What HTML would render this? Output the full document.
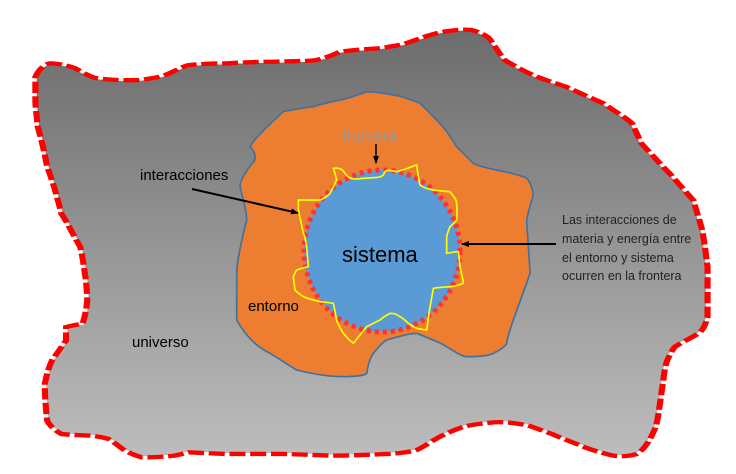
<!DOCTYPE html>
<html><head><meta charset="utf-8"><style>
html,body{margin:0;padding:0;background:#fff;overflow:hidden;}
svg{display:block;}
text{font-family:"Liberation Sans",sans-serif;}
</style></head><body>
<svg width="736" height="474" viewBox="0 0 736 474" xmlns="http://www.w3.org/2000/svg">
<defs>
<linearGradient id="g" x1="0" y1="0" x2="0" y2="1">
<stop offset="0" stop-color="#6c6c6c"/><stop offset="1" stop-color="#bdbdbd"/>
</linearGradient>
<marker id="ah" markerWidth="8" markerHeight="8" refX="7" refY="4" orient="auto" markerUnits="userSpaceOnUse">
<path d="M0,1 L8,4 L0,7 z" fill="#000"/></marker>
<path id="outer" d="M75,230 C85,200 100,188 110,190 C135,192 150,200 160,205 C185,225 200,235 210,235 C250,242 270,240 290,240 C320,236 340,230 350,225 C375,210 390,198 400,195 C440,190 460,190 480,190 C520,186 560,185 580,185 C630,183 655,183 670,180 C700,170 712,160 720,155 C760,148 780,147 800,145 C830,140 850,134 860,130 C900,110 920,100 940,95 C970,88 990,88 1000,90 C1025,100 1035,110 1040,120 C1055,150 1062,168 1070,180 C1100,205 1115,215 1130,225 C1165,245 1185,252 1200,260 C1240,285 1260,298 1280,310 C1310,340 1330,355 1340,370 C1350,400 1355,415 1360,430 C1390,475 1405,500 1420,520 C1445,560 1460,585 1470,600 C1480,650 1488,680 1490,700 C1496,750 1498,780 1500,800 C1500,870 1500,920 1500,950 C1495,975 1490,990 1480,1000 C1455,1020 1440,1030 1430,1040 C1415,1070 1412,1090 1410,1100 C1405,1150 1402,1180 1400,1200 C1396,1240 1394,1260 1390,1280 C1375,1330 1362,1350 1350,1360 C1330,1368 1315,1368 1300,1365 C1270,1355 1255,1348 1240,1340 C1205,1320 1185,1310 1170,1300 C1145,1288 1132,1280 1120,1275 C1085,1265 1065,1264 1050,1265 C1010,1270 995,1274 980,1280 C955,1292 942,1302 930,1310 C905,1330 892,1345 880,1350 C850,1358 835,1359 820,1360 C760,1364 730,1365 700,1365 C650,1362 620,1361 600,1360 C540,1360 500,1360 480,1360 C440,1358 415,1356 400,1355 C385,1360 378,1363 370,1365 C335,1370 315,1370 300,1370 C280,1362 268,1352 260,1345 C245,1330 238,1320 230,1315 C210,1308 200,1306 190,1305 C160,1303 140,1302 130,1300 C112,1285 104,1272 100,1260 C96,1210 95,1175 95,1150 C100,1115 105,1095 110,1080 C125,1050 135,1030 140,1020 C140,1000 140,990 140,980 C155,974 168,972 175,970 C182,940 184,915 185,900 C184,860 182,835 180,820 C176,780 173,755 170,740 C150,690 140,660 130,640 C118,570 108,530 100,500 C92,440 85,405 80,380 C77,340 75,315 75,300 Z"/>
</defs>
<g transform="scale(0.4717,0.3338)">
<use href="#outer" fill="url(#g)" stroke="#fff" stroke-width="6"/>
<use href="#outer" fill="none" stroke="#f00" stroke-width="13" stroke-dasharray="34 10"/>
</g>
<g transform="translate(230,80) scale(0.33333)">
<path d="M160,95 C100,150 70,180 60,200 C80,220 75,235 75,240 C50,270 30,300 30,320 C45,380 50,400 50,420 C30,500 20,550 20,580 C20,650 20,690 20,720 C60,790 100,810 120,820 C170,850 185,862 200,870 C280,890 320,890 350,890 C395,888 405,885 410,880 C415,850 420,835 430,820 C450,795 460,785 470,780 C520,765 545,760 560,760 C610,780 635,790 650,800 C690,825 700,830 710,830 C760,830 780,825 790,820 C820,805 828,795 830,790 C835,760 845,735 850,720 C875,650 890,610 900,580 C895,480 890,440 890,420 C900,370 910,350 910,340 C900,300 890,292 880,290 C830,275 810,272 800,270 C760,262 740,255 730,250 C700,220 690,210 680,200 C650,150 630,130 620,120 C590,90 580,78 570,70 C520,50 505,46 490,45 C440,35 420,35 410,35 C370,50 345,57 330,60 C280,70 265,75 250,80 C190,88 170,92 160,95 Z" fill="#ed7d31" stroke="#41719c" stroke-width="5"/>
<ellipse cx="456" cy="513" rx="234" ry="243" fill="#5b9bd5"/>
<ellipse cx="456" cy="513" rx="234" ry="243" fill="none" stroke="#f33" stroke-width="15" stroke-dasharray="12 12"/>
<path d="M310,265 C330,262 340,270 345,280 C355,295 365,300 400,295 C440,293 455,292 460,285 C465,270 470,268 500,275 C540,265 555,255 560,255 C565,290 568,310 570,315 C590,330 620,332 660,335 C675,355 680,360 680,370 C682,400 680,415 680,420 C668,435 662,438 660,440 C652,460 650,470 650,470 C650,500 650,515 650,520 C675,515 685,515 685,515 C688,540 690,555 690,560 C698,595 700,605 700,610 C680,618 670,620 660,620 C630,622 615,624 610,625 C604,660 602,672 600,680 C594,720 592,740 590,750 C570,748 565,746 560,745 C545,738 540,734 535,730 C520,715 515,712 510,710 C495,700 490,700 480,700 C465,708 455,715 450,720 C430,730 420,735 410,740 C385,770 375,785 370,790 C350,775 345,765 340,760 C328,740 322,728 320,720 C314,690 312,678 310,670 C290,667 278,666 270,665 C240,658 228,654 220,650 C205,640 198,634 195,630 C192,605 190,595 190,590 C196,578 198,572 200,570 C225,562 232,561 235,560 C232,525 231,510 230,500 C226,475 223,465 220,460 C212,420 207,400 205,390 C205,370 205,362 205,360 C245,360 260,360 270,360 C290,352 296,345 300,340 C312,318 317,305 320,300 C315,280 312,270 310,265 Z" fill="none" stroke="#ffff00" stroke-width="5"/>
</g>
<text x="342" y="141" font-size="16" fill="#9a9a9a">frontera</text>
<line x1="376" y1="144" x2="376" y2="163" stroke="#000" stroke-width="1.5" marker-end="url(#ah)"/>
<text x="140" y="180" font-size="15" fill="#000">interacciones</text>
<line x1="192" y1="189" x2="298" y2="213" stroke="#000" stroke-width="2" marker-end="url(#ah)"/>
<text x="342" y="262" font-size="22" fill="#000">sistema</text>
<text x="248" y="311" font-size="15" fill="#000">entorno</text>
<text x="132" y="347" font-size="15" fill="#000">universo</text>
<line x1="556" y1="244" x2="462" y2="244" stroke="#000" stroke-width="2" marker-end="url(#ah)"/>
<g font-size="12.5" fill="#222">
<text x="562" y="224">Las interacciones de</text>
<text x="562" y="243">materia y energía entre</text>
<text x="562" y="262">el entorno y sistema</text>
<text x="562" y="280">ocurren en la frontera</text>
</g>
</svg>
</body></html>
